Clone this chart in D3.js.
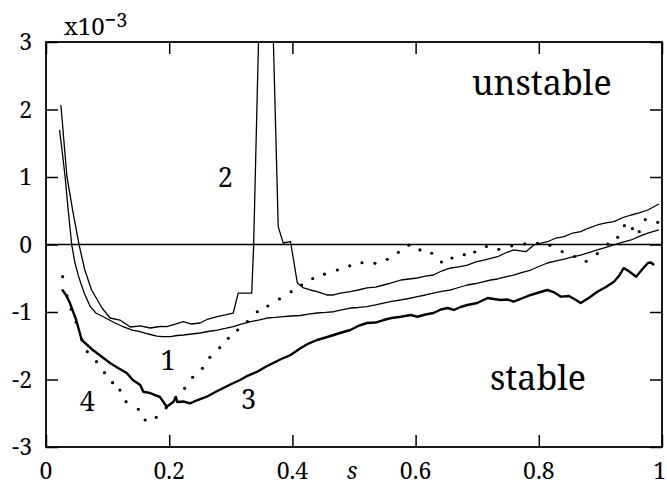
<!DOCTYPE html>
<html>
<head>
<meta charset="utf-8">
<script src="https://cdn.jsdelivr.net/npm/d3@7"></script>
<style>
  html, body { margin: 0; padding: 0; background: #fff; }
  svg { display: block; }
</style>
</head>
<body>
<svg id="chart" width="667" height="490"></svg>
<script>
// Tick positions and labels
const xTicks = [0, 0.2, 0.4, 0.6, 0.8, 1];
const xTickLabels = ["0", "0.2", "0.4", "0.6", "0.8", "1"];
const yTicks = [-3, -2, -1, 0, 1, 2, 3];
const yTickLabels = ["-3", "-2", "-1", "0", "1", "2", "3"];

// Curve 1 (thin): [s, value ×10^-3]
const curve1 = [
  [0.022,1.696],[0.026,1.400],[0.031,1.004],[0.036,0.511],[0.042,-0.018],[0.047,-0.274],
  [0.053,-0.477],[0.062,-0.719],[0.072,-0.921],[0.081,-1.015],[0.093,-1.070],[0.109,-1.148],
  [0.125,-1.218],[0.140,-1.267],[0.153,-1.292],[0.166,-1.326],[0.180,-1.356],[0.190,-1.366],
  [0.202,-1.366],[0.213,-1.348],[0.223,-1.341],[0.236,-1.326],[0.250,-1.311],[0.263,-1.289],
  [0.278,-1.267],[0.291,-1.244],[0.304,-1.218],[0.317,-1.178],[0.332,-1.144],[0.345,-1.119],
  [0.359,-1.089],[0.372,-1.081],[0.385,-1.070],[0.398,-1.059],[0.413,-1.052],[0.426,-1.030],
  [0.440,-1.015],[0.454,-1.007],[0.467,-0.996],[0.480,-0.970],[0.494,-0.941],[0.507,-0.933],
  [0.521,-0.921],[0.535,-0.896],[0.548,-0.867],[0.561,-0.844],[0.576,-0.822],[0.589,-0.800],
  [0.603,-0.773],[0.616,-0.748],[0.629,-0.719],[0.642,-0.696],[0.657,-0.674],[0.670,-0.637],
  [0.684,-0.600],[0.698,-0.578],[0.711,-0.551],[0.722,-0.526],[0.733,-0.511],[0.746,-0.481],
  [0.759,-0.452],[0.772,-0.415],[0.787,-0.378],[0.800,-0.326],[0.814,-0.274],[0.828,-0.244],
  [0.841,-0.215],[0.855,-0.185],[0.868,-0.156],[0.881,-0.119],[0.895,-0.081],[0.909,-0.044],
  [0.922,-0.007],[0.935,0.030],[0.950,0.067],[0.963,0.119],[0.977,0.170],[0.995,0.215]
];

// Curve 2 (thin, with the sharp peak near s = 0.35)
const curve2 = [
  [0.024,2.067],[0.026,1.874],[0.028,1.647],[0.034,1.004],[0.044,0.467],[0.054,-0.018],
  [0.063,-0.378],[0.074,-0.674],[0.091,-0.941],[0.104,-1.089],[0.120,-1.119],[0.137,-1.222],
  [0.153,-1.207],[0.169,-1.237],[0.185,-1.215],[0.196,-1.218],[0.210,-1.178],[0.223,-1.144],
  [0.236,-1.178],[0.250,-1.163],[0.263,-1.104],[0.278,-1.070],[0.291,-1.044],[0.304,-1.015],
  [0.312,-0.719],[0.334,-0.719],[0.337,-0.033],[0.346,3.400],[0.368,3.400],[0.377,0.264],
  [0.385,0.022],[0.397,0.041],[0.408,-0.570],[0.418,-0.644],[0.429,-0.674],[0.440,-0.699],
  [0.456,-0.748],[0.467,-0.748],[0.478,-0.719],[0.494,-0.699],[0.507,-0.674],[0.521,-0.644],
  [0.535,-0.630],[0.548,-0.600],[0.561,-0.570],[0.576,-0.526],[0.589,-0.511],[0.603,-0.496],
  [0.616,-0.467],[0.629,-0.452],[0.642,-0.393],[0.657,-0.348],[0.670,-0.333],[0.684,-0.304],
  [0.698,-0.259],[0.711,-0.230],[0.733,-0.181],[0.746,-0.126],[0.759,-0.081],[0.779,-0.107],
  [0.792,-0.007],[0.814,0.041],[0.828,0.096],[0.841,0.116],[0.855,0.170],[0.868,0.190],
  [0.881,0.244],[0.895,0.289],[0.909,0.319],[0.922,0.338],[0.935,0.393],[0.950,0.437],
  [0.963,0.467],[0.977,0.511],[0.995,0.600]
];

// Curve 3 (thick)
const curve3 = [
  [0.026,-0.664],[0.029,-0.704],[0.034,-0.773],[0.039,-0.871],[0.049,-1.119],[0.058,-1.415],
  [0.067,-1.489],[0.076,-1.563],[0.089,-1.652],[0.104,-1.756],[0.117,-1.830],[0.131,-1.904],
  [0.141,-2.007],[0.153,-2.081],[0.158,-2.181],[0.169,-2.200],[0.177,-2.230],[0.185,-2.259],
  [0.196,-2.403],[0.207,-2.329],[0.211,-2.259],[0.213,-2.333],[0.223,-2.326],[0.234,-2.353],
  [0.246,-2.304],[0.261,-2.255],[0.275,-2.185],[0.288,-2.126],[0.301,-2.067],[0.315,-2.007],
  [0.328,-1.941],[0.343,-1.884],[0.356,-1.815],[0.369,-1.756],[0.382,-1.696],[0.397,-1.637],
  [0.413,-1.538],[0.426,-1.467],[0.440,-1.415],[0.454,-1.378],[0.467,-1.341],[0.480,-1.304],
  [0.494,-1.267],[0.507,-1.207],[0.521,-1.163],[0.535,-1.156],[0.548,-1.119],[0.561,-1.089],
  [0.576,-1.070],[0.592,-1.044],[0.603,-1.070],[0.616,-1.037],[0.629,-1.015],[0.641,-0.963],
  [0.652,-0.941],[0.662,-0.970],[0.673,-0.926],[0.684,-0.896],[0.700,-0.867],[0.717,-0.793],
  [0.727,-0.807],[0.738,-0.822],[0.750,-0.815],[0.759,-0.847],[0.772,-0.800],[0.787,-0.748],
  [0.800,-0.711],[0.814,-0.674],[0.824,-0.704],[0.836,-0.773],[0.849,-0.763],[0.859,-0.815],
  [0.868,-0.867],[0.881,-0.793],[0.895,-0.699],[0.909,-0.630],[0.922,-0.551],[0.930,-0.467],
  [0.938,-0.348],[0.948,-0.407],[0.958,-0.477],[0.967,-0.378],[0.977,-0.274],[0.982,-0.267],
  [0.987,-0.304]
];

// Curve 4 (dotted): individual sample points
const curve4 = [
  [0.027,-0.477],[0.034,-0.760],[0.041,-0.960],[0.049,-1.150],[0.058,-1.404],[0.067,-1.588],
  [0.082,-1.736],[0.095,-1.899],[0.108,-2.047],[0.120,-2.156],[0.130,-2.329],[0.150,-2.441],
  [0.161,-2.600],[0.179,-2.560],[0.195,-2.420],[0.210,-2.270],[0.225,-2.130],[0.238,-1.967],
  [0.254,-1.834],[0.266,-1.671],[0.282,-1.529],[0.296,-1.390],[0.311,-1.267],[0.327,-1.144],
  [0.343,-0.996],[0.360,-0.911],[0.379,-0.807],[0.398,-0.699],[0.415,-0.600],[0.433,-0.504],
  [0.452,-0.440],[0.473,-0.378],[0.493,-0.316],[0.513,-0.270],[0.534,-0.279],[0.554,-0.219],
  [0.572,-0.116],[0.589,-0.010],[0.607,-0.081],[0.626,-0.130],[0.642,-0.259],[0.659,-0.200],
  [0.679,-0.151],[0.696,-0.111],[0.715,-0.030],[0.735,-0.071],[0.756,-0.020],[0.777,0.010],
  [0.798,0.018],[0.818,-0.012],[0.838,-0.107],[0.858,-0.178],[0.877,-0.249],[0.895,-0.136],
  [0.912,0.007],[0.928,0.107],[0.939,0.279],[0.952,0.236],[0.963,0.190],[0.973,0.369],
  [0.993,0.329]
];

(function () {
  const svg = d3.select("#chart");
  const plotLeft = 46, plotRight = 662, plotTop = 42, plotBottom = 447;
  const serifFont = "\"Noto Serif\"";

  const x = d3.scaleLinear().domain([0, 1]).range([plotLeft, plotRight]);
  const y = d3.scaleLinear().domain([-3, 3]).range([plotBottom, plotTop]);

  svg.append("defs").append("clipPath").attr("id", "plot-clip")
    .append("rect").attr("x", plotLeft).attr("y", plotTop)
    .attr("width", plotRight - plotLeft).attr("height", plotBottom - plotTop);

  const plot = svg.append("g").attr("clip-path", "url(#plot-clip)");

  // zero reference line
  plot.append("line")
    .attr("x1", x(0)).attr("x2", x(1)).attr("y1", y(0)).attr("y2", y(0))
    .attr("stroke", "#000").attr("stroke-width", 1.3);

  const line = d3.line().x(d => x(d[0])).y(d => y(d[1]));

  plot.append("path").datum(curve1).attr("d", line)
    .attr("fill", "none").attr("stroke", "#000").attr("stroke-width", 1.3)
    .attr("stroke-linejoin", "round");
  plot.append("path").datum(curve2).attr("d", line)
    .attr("fill", "none").attr("stroke", "#000").attr("stroke-width", 1.3)
    .attr("stroke-linejoin", "round");
  plot.append("path").datum(curve3).attr("d", line)
    .attr("fill", "none").attr("stroke", "#000").attr("stroke-width", 2.4)
    .attr("stroke-linejoin", "round");
  plot.selectAll("circle.dot").data(curve4).join("circle")
    .attr("class", "dot")
    .attr("cx", d => x(d[0])).attr("cy", d => y(d[1])).attr("r", 1.6)
    .attr("fill", "#000");

  // frame with inward ticks on all four sides
  const tickLen = 12;
  const bottomAxis = d3.axisTop(x).tickValues(xTicks).tickSize(tickLen).tickFormat("");
  const topAxis = d3.axisBottom(x).tickValues(xTicks).tickSize(tickLen).tickFormat("");
  const leftAxis = d3.axisRight(y).tickValues(yTicks).tickSize(tickLen).tickFormat("");
  const rightAxis = d3.axisLeft(y).tickValues(yTicks).tickSize(tickLen).tickFormat("");

  function styleAxis(g) {
    g.select(".domain").remove();
    g.selectAll(".tick line").attr("stroke", "#000").attr("stroke-width", 1.5);
  }
  svg.append("g").attr("transform", `translate(0,${plotBottom})`).call(bottomAxis).call(styleAxis);
  svg.append("g").attr("transform", `translate(0,${plotTop})`).call(topAxis).call(styleAxis);
  svg.append("g").attr("transform", `translate(${plotLeft},0)`).call(leftAxis).call(styleAxis);
  svg.append("g").attr("transform", `translate(${plotRight},0)`).call(rightAxis).call(styleAxis);

  svg.append("rect")
    .attr("x", plotLeft).attr("y", plotTop)
    .attr("width", plotRight - plotLeft).attr("height", plotBottom - plotTop)
    .attr("fill", "none").attr("stroke", "#000").attr("stroke-width", 1.8);

  // tick labels (the last one is kept inside the page edge)
  const lastTick = xTicks.length - 1;
  svg.selectAll("text.xlab").data(xTicks).join("text")
    .attr("class", "xlab")
    .attr("x", (d, i) => i === lastTick ? 666 : x(d)).attr("y", 479)
    .attr("text-anchor", (d, i) => i === lastTick ? "end" : "middle")
    .style("font-family", serifFont).style("font-size", "23px")
    .text((d, i) => xTickLabels[i]);

  svg.selectAll("text.ylab").data(yTicks).join("text")
    .attr("class", "ylab")
    .attr("x", 32).attr("y", d => y(d)).attr("dy", "0.36em")
    .attr("text-anchor", "end")
    .style("font-family", serifFont).style("font-size", "23px")
    .text((d, i) => yTickLabels[i]);

  // axis variable and scale factor
  svg.append("text")
    .attr("x", 352).attr("y", 479).attr("text-anchor", "middle")
    .style("font-family", serifFont).style("font-size", "23px").style("font-style", "italic")
    .text("s");

  const mult = svg.append("text")
    .attr("x", 64).attr("y", 35)
    .style("font-family", serifFont).style("font-size", "24px");
  mult.append("tspan").text("x10");
  mult.append("tspan").attr("dy", -8).style("font-size", "20px").text("−3");

  // region labels
  svg.append("text")
    .attr("x", 472).attr("y", 95)
    .style("font-family", serifFont).style("font-size", "34px").text("unstable");
  svg.append("text")
    .attr("x", 490).attr("y", 390)
    .style("font-family", serifFont).style("font-size", "34px").text("stable");

  // curve identifiers
  const curveNames = ["1", "2", "3", "4"];
  const namePos = [[0.198, -1.71], [0.291, 0.99], [0.329, -2.29], [0.067, -2.33]];
  svg.selectAll("text.cname").data(curveNames).join("text")
    .attr("class", "cname")
    .attr("x", (d, i) => x(namePos[i][0])).attr("y", (d, i) => y(namePos[i][1]))
    .attr("dy", "0.36em").attr("text-anchor", "middle")
    .style("font-family", serifFont).style("font-size", "27px")
    .text(d => d);
})();
</script>
</body>
</html>
